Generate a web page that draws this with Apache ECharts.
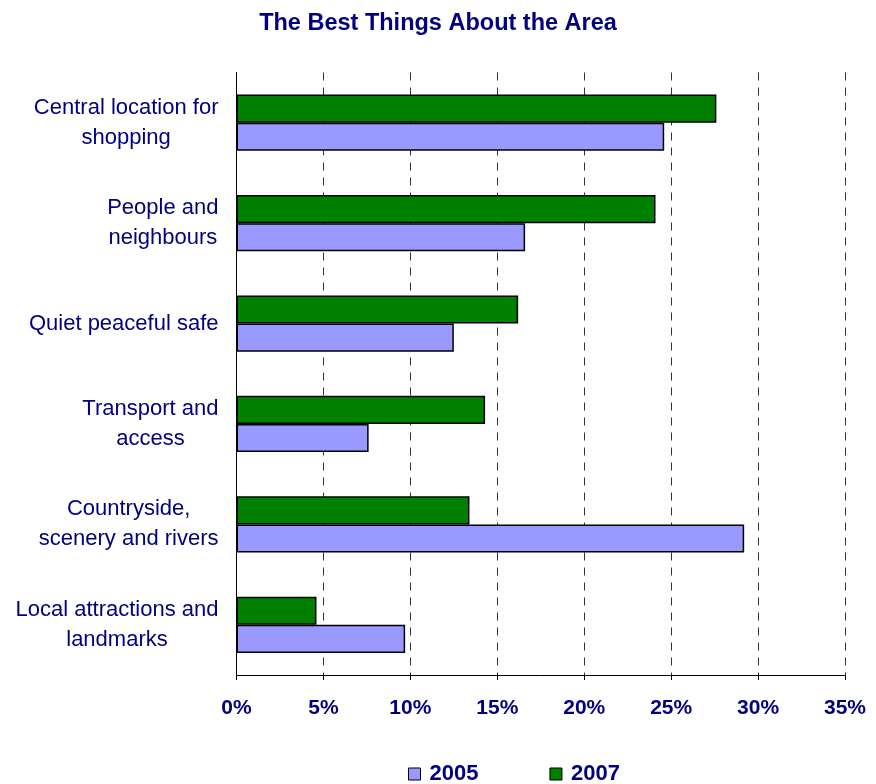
<!DOCTYPE html>
<html>
<head>
<meta charset="utf-8">
<title>The Best Things About the Area</title>
<script src="https://cdn.jsdelivr.net/npm/echarts@6/dist/echarts.min.js"></script>
<style>
  html, body { margin: 0; padding: 0; background: #ffffff; }
  #chart { width: 876px; height: 784px; }
</style>
</head>
<body>
<div id="chart"></div>
<script>
// Survey answers, listed top to bottom
const categories = [
  'Central location for\nshopping',
  'People and\nneighbours',
  'Quiet peaceful safe',
  'Transport and\naccess',
  'Countryside,\nscenery and rivers',
  'Local attractions and\nlandmarks'
];
// Share of respondents (%)
const values2005 = [24.6, 16.6, 12.5, 7.6, 29.2, 9.7];
const values2007 = [27.6, 24.1, 16.2, 14.3, 13.4, 4.6];
const xTicks = [0, 5, 10, 15, 20, 25, 30, 35];

const navy = '#000080';
const font = 'Liberation Sans, Arial, sans-serif';

const chart = echarts.init(document.getElementById('chart'), null, { renderer: 'canvas' });

chart.setOption({
  animation: false,
  backgroundColor: '#ffffff',
  title: {
    text: 'The Best Things About the Area',
    left: 'center',
    top: 7,
    textStyle: { color: navy, fontFamily: font, fontWeight: 'bold', fontSize: 23.5 }
  },
  legend: {
    data: ['2005', '2007'],
    left: 408,
    top: 763,
    padding: 0,
    itemWidth: 12,
    itemHeight: 12,
    itemGap: 71,
    icon: 'rect',
    itemStyle: { borderColor: '#000', borderWidth: 1 },
    textStyle: { color: navy, fontFamily: font, fontWeight: 'bold', fontSize: 22, padding: [0, 0, 0, 4] }
  },
  grid: { left: 236.5, right: 31, top: 72.5, bottom: 109, containLabel: false },
  xAxis: {
    type: 'value',
    min: xTicks[0],
    max: xTicks[xTicks.length - 1],
    interval: 5,
    axisLine: { show: true, lineStyle: { color: '#000', width: 1 } },
    axisTick: { show: true, length: 5, lineStyle: { color: '#000' } },
    axisLabel: {
      margin: 23,
      color: navy,
      fontFamily: font,
      fontWeight: 'bold',
      fontSize: 21,
      formatter: v => v + '%'
    },
    splitLine: { show: true, lineStyle: { color: '#333', type: [8, 7], width: 1 } }
  },
  yAxis: {
    type: 'category',
    inverse: true,
    data: categories,
    axisLine: { show: true, lineStyle: { color: '#000', width: 1 } },
    axisTick: { show: false },
    axisLabel: {
      margin: 18,
      align: 'right',
      formatter: v => v.split('\n').map(line => '{c|' + line + '}').join('\n'),
      rich: {
        c: { align: 'center', color: navy, fontFamily: font, fontSize: 22, lineHeight: 30 }
      }
    }
  },
  // 2007 is drawn first so it sits above 2005 within each pair
  series: [
    {
      name: '2007',
      type: 'bar',
      data: values2007,
      barGap: '0%',
      barCategoryGap: '44%',
      itemStyle: { color: '#008000', borderColor: '#000', borderWidth: 1.5 }
    },
    {
      name: '2005',
      type: 'bar',
      data: values2005,
      barGap: '0%',
      barCategoryGap: '44%',
      itemStyle: { color: '#9999FF', borderColor: '#000', borderWidth: 1.5 }
    }
  ]
});
</script>
</body>
</html>
